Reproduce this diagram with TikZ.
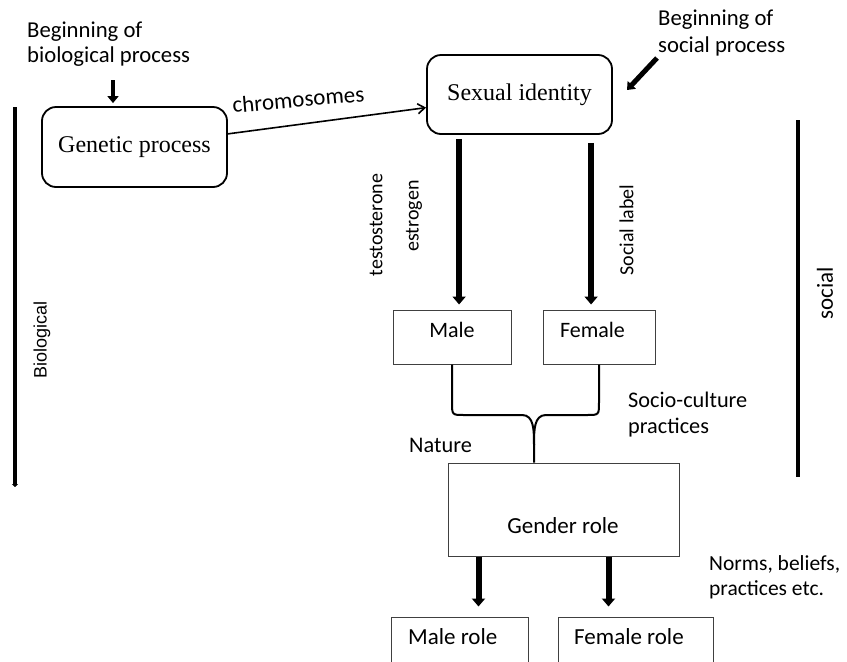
\documentclass[tikz,border=0pt]{standalone}
\usepackage{fontspec}
\newfontfamily\carl{Carlito}
\newfontfamily\tnr{Liberation Serif}
\newfontfamily\arl{Liberation Sans}
\usetikzlibrary{arrows.meta,calc}
\begin{document}
\begin{tikzpicture}[x=1pt,y=-1pt,
  lbl/.style={font=\carl\fontsize{22.3}{26}\selectfont, inner sep=0pt},
  vlbl/.style={font=\carl\fontsize{20}{24}\selectfont, inner sep=0pt, rotate=90},
  rbox/.style={draw, line width=1.8pt, rounded corners=14pt, font=\tnr\fontsize{24}{28}\selectfont, inner sep=0pt},
  sbox/.style={draw=black!75, line width=1pt, inner sep=0pt},
  bigarrow/.style={line width=6pt, -{Triangle[length=8pt,width=13pt]}},
  medarrow/.style={line width=5pt, -{Triangle[length=7pt,width=11pt]}},
  sidebar/.style={line width=3.5pt},
  brace/.style={line width=2pt},
  thinarrow/.style={line width=1.6pt, -{Straight Barb[length=7pt,width=10pt]}}
]
\useasboundingbox (0,0) rectangle (847,662);
\clip (0,0) rectangle (847,662);

% top labels
\node[lbl, anchor=base west, font=\carl\fontsize{22.7}{26}\selectfont] (bio1) at (27,37) {Beginning of};
\node[lbl, anchor=base west, font=\carl\fontsize{22.7}{26}\selectfont] (bio2) at (27,62) {biological process};
\node[lbl, anchor=base west, font=\carl\fontsize{22.7}{26}\selectfont] (soc1) at (658,25) {Beginning of};
\node[lbl, anchor=base west, font=\carl\fontsize{22.7}{26}\selectfont] (soc2) at (658,52) {social process};

% main boxes
\node[rbox, minimum width=185pt, minimum height=80pt] (gen) at (134.5,147) {Genetic process};
\node[rbox, minimum width=185pt, minimum height=79pt] (sex) at (519.5,94.5) {Sexual identity};
\node[sbox, minimum width=118pt, minimum height=54pt] (male) at (452,337) {};
\node[sbox, minimum width=112pt, minimum height=54pt] (female) at (599,337) {};
\node[sbox, minimum width=231pt, minimum height=93pt] (gender) at (563.5,509.5) {};
\node[sbox, minimum width=137pt, minimum height=60pt] (mrole) at (459.5,647) {};
\node[sbox, minimum width=155pt, minimum height=60pt] (frole) at (635.5,647) {};

% box texts
\node[lbl, font=\carl\fontsize{22}{26}\selectfont] (maletxt) at (452,330) {Male};
\node[lbl, font=\carl\fontsize{22}{26}\selectfont] (femaletxt) at (592.5,330) {Female};
\node[lbl, font=\carl\fontsize{23}{27}\selectfont] (gendertxt) at (563,526) {Gender role};
\node[lbl, anchor=west, font=\carl\fontsize{23}{27}\selectfont] (mroletxt) at (408,637) {Male role};
\node[lbl, anchor=west, font=\carl\fontsize{23}{27}\selectfont] (froletxt) at (574,637) {Female role};

% side bars
\coordinate (lb1) at (15,107);
\coordinate (lb2) at (15,487);
\draw[sidebar, -{Triangle[length=3pt,width=6pt]}] (lb1) -- (lb2);
\coordinate (rb1) at (798,120);
\coordinate (rb2) at (798,477);
\draw[sidebar] (rb1) -- (rb2);
\node[font=\arl\fontsize{18}{21}\selectfont, rotate=90, inner sep=0pt] (biol) at (42,340) {Biological};
\node[vlbl, font=\carl\fontsize{23}{27}\selectfont] (socl) at (825,293) {social};

% begin arrows
\coordinate (bioarr) at (113,80);
\draw[medarrow, line width=4.5pt, shorten >=3pt] (bioarr) -- (bioarr |- gen.north);
\coordinate (socarr1) at (657,58);
\coordinate (socarr2) at (627,90);
\draw[medarrow] (socarr1) -- (socarr2);

% chromosomes
\draw[thinarrow] (gen.8) -- (sex.188);
\node[lbl, anchor=base west, rotate=5, font=\carl\fontsize{23}{27}\selectfont] (chrom) at (233,113) {chromosomes};

% hormone / label arrows
\coordinate (t1) at ($(sex.south west)+(33,4)$);
\coordinate (t2) at ($(sex.south west)+(165,8)$);
\draw[bigarrow, shorten >=5pt] (t1) -- (t1 |- male.north);
\draw[bigarrow, shorten >=5pt] (t2) -- (t2 |- female.north);
\node[vlbl] (testo) at (376,225) {testosterone};
\node[vlbl] (estro) at (414,216) {estrogen};
\node[vlbl] (slabel) at (626.5,230) {Social label};

% brace
\coordinate (stemx) at (534,0);
\draw[brace] (male.south) -- (452,402) .. controls (452,415) .. (464,415) -- (522,415)
  .. controls (534,415) and (534,430) .. (534,445) -- (gender.north -| stemx);
\draw[brace] (female.south) -- (599,402) .. controls (599,415) .. (587,415) -- (546,415)
  .. controls (534,415) and (534,430) .. (534,445);
\node[lbl, anchor=base west] (nature) at (409,452) {Nature};
\node[lbl, anchor=base west] (socio1) at (628,407) {Socio-culture};
\node[lbl, anchor=base west] (socio2) at (628,433) {practices};

% gender role arrows
\coordinate (g1) at ($(gender.south west)+(31,0)$);
\coordinate (g2) at ($(gender.south west)+(161,0)$);
\draw[bigarrow, shorten >=10pt] (g1) -- (g1 |- mrole.north);
\draw[bigarrow, shorten >=10pt] (g2) -- (g2 |- frole.north);
\node[lbl, anchor=base west, font=\carl\fontsize{21.5}{26}\selectfont] (norms1) at (709,570) {Norms, beliefs,};
\node[lbl, anchor=base west, font=\carl\fontsize{21.5}{26}\selectfont] (norms2) at (709,595) {practices etc.};
\end{tikzpicture}
\end{document}
